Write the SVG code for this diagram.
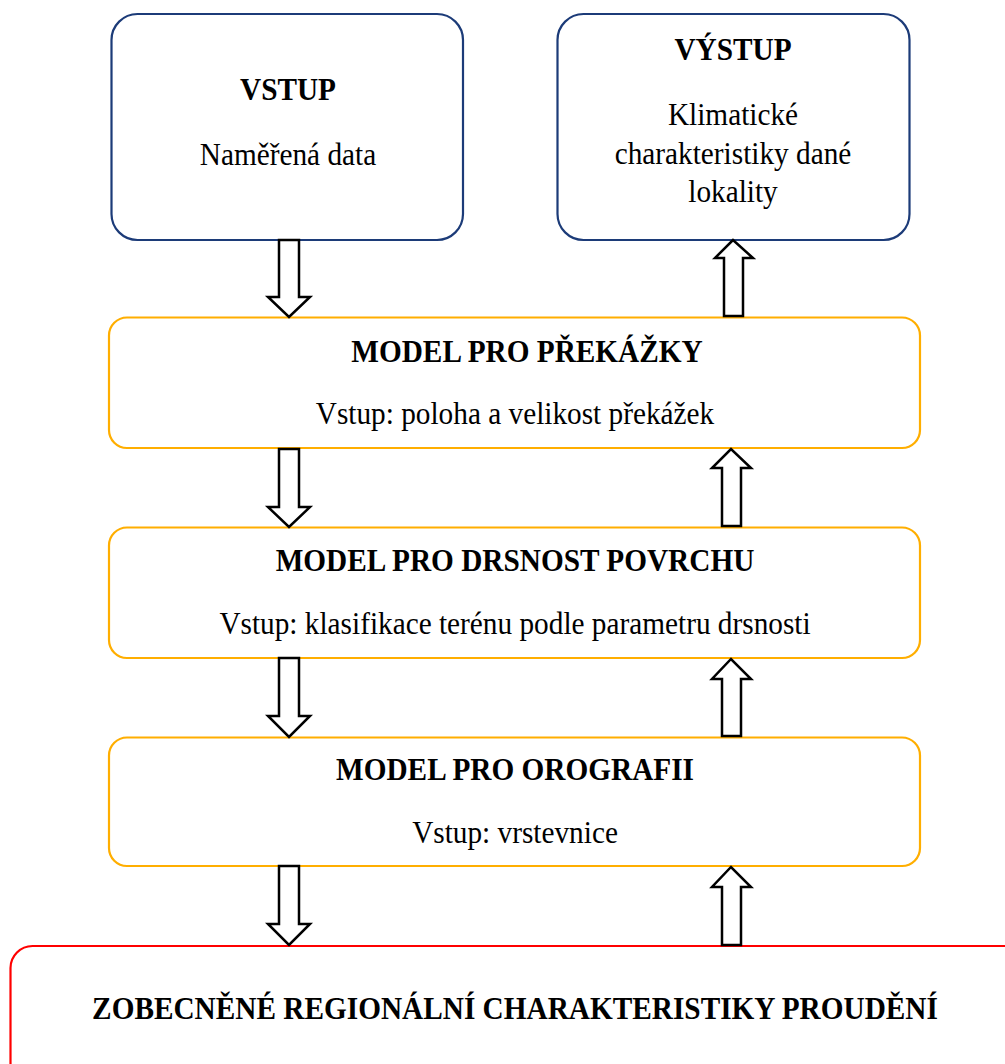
<svg xmlns="http://www.w3.org/2000/svg" width="1005" height="1064" viewBox="0 0 1005 1064">
<style>
.nav{fill:#fff;stroke:#1c3b78;stroke-width:2.2}
.org{fill:#fff;stroke:#ffae00;stroke-width:2.2}
.red{fill:#fff;stroke:#ff0000;stroke-width:2.2}
.arr{fill:#fff;stroke:#000;stroke-width:2.5;stroke-linejoin:miter}
text{font-family:"Liberation Serif","Times New Roman",serif;font-size:29.3px;fill:#000;text-anchor:middle}
.b{font-weight:bold}
</style>
<rect width="1005" height="1064" fill="#fff"/>
<g id="vstup">
<rect class="nav" x="111.5" y="14" width="351.5" height="226" rx="26"/>
<text class="b" transform="translate(288,100) scale(1,1.1)">VSTUP</text>
<text transform="translate(288,165) scale(1,1.1)">Naměřená data</text>
</g>
<g id="vystup">
<rect class="nav" x="557.5" y="14" width="352" height="226" rx="26"/>
<text class="b" transform="translate(733,60) scale(1,1.1)">VÝSTUP</text>
<text transform="translate(733,125) scale(1,1.1)">Klimatické</text>
<text transform="translate(733,164) scale(1,1.1)">charakteristiky dané</text>
<text transform="translate(733,202) scale(1,1.1)">lokality</text>
</g>
<g id="model-prekazky">
<rect class="org" x="109" y="317.5" width="811" height="130.5" rx="18"/>
<text class="b" transform="translate(527,362) scale(1,1.1)">MODEL PRO PŘEKÁŽKY</text>
<text transform="translate(515,424) scale(1,1.1)">Vstup: poloha a velikost překážek</text>
</g>
<g id="model-drsnost">
<rect class="org" x="109" y="527.5" width="811" height="130.5" rx="18"/>
<text class="b" transform="translate(515,571) scale(1,1.1)">MODEL PRO DRSNOST POVRCHU</text>
<text transform="translate(515,634) scale(1,1.1)">Vstup: klasifikace terénu podle parametru drsnosti</text>
</g>
<g id="model-orografie">
<rect class="org" x="109" y="737.5" width="811" height="128.5" rx="18"/>
<text class="b" transform="translate(515,780) scale(1,1.1)">MODEL PRO OROGRAFII</text>
<text transform="translate(515,843) scale(1,1.1)">Vstup: vrstevnice</text>
</g>
<g id="zobecnene">
<rect class="red" x="10.5" y="946" width="1030" height="140" rx="22"/>
<text class="b" transform="translate(515,1019) scale(1,1.1)">ZOBECNĚNÉ REGIONÁLNÍ CHARAKTERISTIKY PROUDĚNÍ</text>
</g>
<g id="connectors">
<polygon class="arr" points="279,240 299,240 299,297 310,297 289,317 268,297 279,297"/>
<polygon class="arr" points="724,316 743,316 743,258 753,258 733,240 715,258 724,258"/>
<polygon class="arr" points="279,449 299,449 299,507 310,507 289,527 268,507 279,507"/>
<polygon class="arr" points="722,526 741,526 741,468 751,468 731,449 712,468 722,468"/>
<polygon class="arr" points="279,658 299,658 299,716 310,716 289,737 268,716 279,716"/>
<polygon class="arr" points="722,736 741,736 741,679 751,679 731,659 712,679 722,679"/>
<polygon class="arr" points="279,866 299,866 299,924 310,924 289,945 268,924 279,924"/>
<polygon class="arr" points="722,945 741,945 741,887 751,887 731,867 712,887 722,887"/>
</g>
</svg>
